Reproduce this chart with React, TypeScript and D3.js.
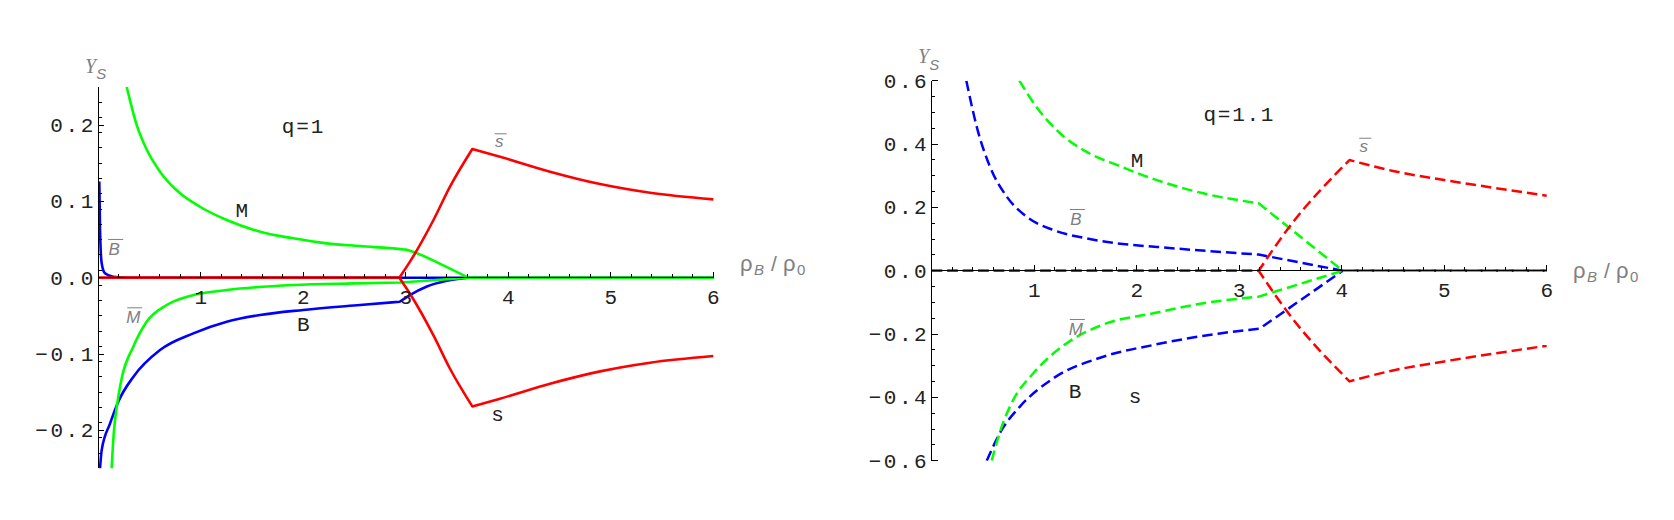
import React from "react";
import * as d3 from "d3";

type Pt = [number, number];

// ---------------- q = 1 (left panel, solid lines) ----------------
const q1_Bbar: Pt[][] = [
  [[0.01, 0.126], [0.017, 0.0625], [0.033, 0.019], [0.065, 0.0058], [0.146, 0.0013], [0.3, 0], [6, 0]],
];
const q1_B: Pt[][] = [
  [[0.017, -0.25], [0.033, -0.226], [0.115, -0.191], [0.195, -0.1625], [0.341, -0.13], [0.602, -0.0948], [0.927, -0.073], [1.253, -0.0577], [1.578, -0.0489], [2.0, -0.0423], [2.553, -0.0358], [2.94, -0.0315]],
  [[2.94, -0.0315], [3.04, -0.0227], [3.2, -0.0118], [3.4, -0.004], [3.61, 0]],
  [[3.61, 0], [6, 0]],
];
const q1_M: Pt[][] = [
  [[0.277, 0.25], [0.375, 0.2], [0.472, 0.168], [0.602, 0.139], [0.798, 0.1106], [0.992, 0.093], [1.253, 0.0756], [1.578, 0.0603], [1.902, 0.0516], [2.228, 0.045], [2.553, 0.0415], [2.95, 0.0375], [3.0, 0.0368]],
  [[3.0, 0.0368], [3.07, 0.034], [3.33, 0.0185], [3.61, 0]],
  [[3.61, 0], [6, 0]],
];
const q1_Mbar: Pt[][] = [
  [[0.13, -0.25], [0.15, -0.205], [0.186, -0.164], [0.228, -0.132], [0.341, -0.0904], [0.472, -0.0577], [0.667, -0.0358], [0.927, -0.0227], [1.253, -0.0161], [1.902, -0.0096], [2.5, -0.0075], [2.95, -0.0062]],
  [[2.95, -0.0062], [3.61, 0]],
  [[3.61, 0], [6, 0]],
];
const q1_sbar: Pt[][] = [
  [[0, 0], [2.937, 0]],
  [[2.937, 0], [3.05, 0.023], [3.27, 0.0756], [3.43, 0.119], [3.649, 0.1687]],
  [[3.649, 0.1687], [3.919, 0.1586], [4.407, 0.139], [4.895, 0.1228], [5.383, 0.1114], [6.0, 0.1027]],
];
const q1_s: Pt[][] = [
  [[0, 0], [2.937, 0]],
  [[2.937, 0], [3.05, -0.023], [3.27, -0.0756], [3.43, -0.119], [3.649, -0.1687]],
  [[3.649, -0.1687], [3.919, -0.1586], [4.407, -0.139], [4.895, -0.1228], [5.383, -0.1114], [6.0, -0.1027]],
];

// ---------------- q = 1.1 (right panel, dashed lines) ----------------
const q11_Bbar: Pt[][] = [
  [[0.338, 0.6], [0.439, 0.455], [0.569, 0.328], [0.732, 0.234], [0.927, 0.1705], [1.186, 0.1285], [1.512, 0.102], [1.805, 0.0865], [2.2, 0.075], [2.7, 0.062], [3.19, 0.051]],
  [[3.19, 0.051], [4.01, 0]],
  [[4.01, 0], [6, 0]],
];
const q11_B: Pt[][] = [
  [[0.537, -0.6], [0.683, -0.503], [0.861, -0.429], [1.186, -0.34], [1.674, -0.2716], [2.162, -0.2346], [2.813, -0.198], [3.2, -0.183]],
  [[3.2, -0.183], [4.01, 0]],
  [[4.01, 0], [6, 0]],
];
const q11_M: Pt[][] = [
  [[0.855, 0.6], [1.02, 0.518], [1.252, 0.434], [1.512, 0.375], [1.837, 0.33], [2.145, 0.2917], [2.649, 0.2443], [3.19, 0.2128]],
  [[3.19, 0.2128], [4.01, 0]],
  [[4.01, 0], [6, 0]],
];
const q11_Mbar: Pt[][] = [
  [[0.585, -0.6], [0.683, -0.4926], [0.796, -0.408], [0.991, -0.324], [1.317, -0.229], [1.674, -0.17], [2.162, -0.1345], [2.649, -0.103], [3.19, -0.082]],
  [[3.19, -0.082], [4.01, 0]],
  [[4.01, 0], [6, 0]],
];
const q11_sbar: Pt[][] = [
  [[0, 0], [3.19, 0]],
  [[3.19, 0], [3.47, 0.13], [4.076, 0.3495]],
  [[4.076, 0.3495], [4.5, 0.315], [5.0, 0.2864], [5.5, 0.261], [6.0, 0.237]],
];
const q11_s: Pt[][] = [
  [[0, 0], [3.19, 0]],
  [[3.19, 0], [3.47, -0.13], [4.076, -0.3495]],
  [[4.076, -0.3495], [4.5, -0.315], [5.0, -0.2864], [5.5, -0.261], [6.0, -0.237]],
];

// ---------------- ticks ----------------
const xTickValues = [1, 2, 3, 4, 5, 6];
const xTickLabels = ["1", "2", "3", "4", "5", "6"];
const q1_yTickValues = [-0.2, -0.1, 0, 0.1, 0.2];
const q1_yTickLabels = ["\u22120.2", "\u22120.1", "0.0", "0.1", "0.2"];
const q11_yTickValues = [-0.6, -0.4, -0.2, 0, 0.2, 0.4, 0.6];
const q11_yTickLabels = ["\u22120.6", "\u22120.4", "\u22120.2", "0.0", "0.2", "0.4", "0.6"];

const BLUE = "#0000ff";
const GREEN = "#00ff00";
const RED = "#ff0000";
const GREY = "#808080";
const MONO = "'Liberation Mono', 'DejaVu Sans Mono', monospace";
const SANS = "'Liberation Sans', Arial, sans-serif";
const SERIF = "'Liberation Serif', 'Times New Roman', serif";

type Label = { t: string; x: number; y: number; grey?: boolean };

type PanelCfg = {
  id: string;
  xRange: [number, number];
  yDomain: [number, number];
  yRange: [number, number];
  yMinorStep: number;
  yTicks: number[];
  yLabels: string[];
  series: { segs: Pt[][]; color: string }[];
  dashed: boolean;
  width: number;
  labels: Label[];
  title: { t: string; x: number; y: number };
  ysLabel: { x: number; y: number; sdy: number };
  rhoLabel: { x: number; y: number };
};

function Panel({ cfg }: { cfg: PanelCfg }) {
  const x = d3.scaleLinear().domain([0, 6]).range(cfg.xRange);
  const y = d3.scaleLinear().domain(cfg.yDomain).range(cfg.yRange);
  const line = d3
    .line<Pt>()
    .x((d) => x(d[0]))
    .y((d) => y(d[1]))
    .curve(d3.curveMonotoneX);
  const pathOf = (segs: Pt[][]) =>
    segs
      .map((s, i) => {
        const p = line(s) || "";
        return i === 0 ? p : p.replace(/^M[^A-Za-z]*/, "");
      })
      .join("");

  const x0 = x(0);
  const y0 = y(0);
  const xMinor = d3.range(1, 31).map((i) => i * 0.2).filter((v) => Math.abs(v - Math.round(v)) > 1e-6);
  const nMinor = Math.round((cfg.yDomain[1] - cfg.yDomain[0]) / cfg.yMinorStep);
  const yMinor = d3
    .range(1, nMinor)
    .map((i) => cfg.yDomain[0] + i * cfg.yMinorStep)
    .filter((v) => !cfg.yTicks.some((t) => Math.abs(t - v) < 1e-6));

  const clipId = "clip-" + cfg.id;
  const rx = cfg.rhoLabel.x;
  const ry = cfg.rhoLabel.y;
  return (
    <g>
      <defs>
        <clipPath id={clipId}>
          <rect x={x0 - 3} y={cfg.yRange[1]} width={x(6) - x0 + 6} height={cfg.yRange[0] - cfg.yRange[1]} />
        </clipPath>
      </defs>
      <g clipPath={`url(#${clipId})`} fill="none">
        {cfg.series.map((s, i) => (
          <path
            key={i}
            d={pathOf(s.segs)}
            stroke={s.color}
            strokeWidth={cfg.width}
            strokeDasharray={cfg.dashed ? "10.5 5" : undefined}
            strokeLinejoin="round"
          />
        ))}
      </g>
      {/* axes */}
      <g stroke="#000" strokeWidth={1} shapeRendering="crispEdges">
        <line x1={x0} x2={x(6)} y1={y0} y2={y0} />
        <line x1={x0} x2={x0} y1={cfg.yRange[0]} y2={cfg.yRange[1]} />
        {xTickValues.map((v) => (
          <line key={"xM" + v} x1={x(v)} x2={x(v)} y1={y0} y2={y0 - 6} />
        ))}
        {xMinor.map((v, i) => (
          <line key={"xm" + i} x1={x(v)} x2={x(v)} y1={y0} y2={y0 - 3.5} />
        ))}
        {cfg.yTicks.map((v) => (
          <line key={"yM" + v} x1={x0} x2={x0 + 6} y1={y(v)} y2={y(v)} />
        ))}
        {yMinor.map((v, i) => (
          <line key={"ym" + i} x1={x0} x2={x0 + 3.5} y1={y(v)} y2={y(v)} />
        ))}
      </g>
      {/* tick labels */}
      <g fontFamily={MONO} fontSize={21} fill="#222">
        {cfg.yTicks.map((v, i) => (
          <text
            key={"yl" + v}
            x={x0 - 5}
            y={y(v) + 7}
            textAnchor="end"
            textLength={cfg.yLabels[i].length * 15 - 2}
            lengthAdjust="spacing"
          >
            {cfg.yLabels[i]}
          </text>
        ))}
        {xTickValues.map((v, i) => (
          <text key={"xl" + v} x={x(v)} y={y0 + 26} textAnchor="middle">
            {xTickLabels[i]}
          </text>
        ))}
      </g>
      {/* title */}
      <text
        x={x(cfg.title.x)}
        y={y(cfg.title.y)}
        fontFamily={MONO}
        fontSize={21}
        fill="#222"
        textAnchor="middle"
        textLength={cfg.title.t.length * 14.2 - 1}
        lengthAdjust="spacing"
      >
        {cfg.title.t}
      </text>
      {/* curve labels */}
      {cfg.labels.map((l, i) => {
        const lx = x(l.x);
        const ly = y(l.y);
        if (l.grey) {
          const lower = l.t === "s";
          const half = lower ? 6 : 7.5;
          const barY = ly - (lower ? 13.5 : 15.5);
          return (
            <g key={i}>
              <text x={lx} y={ly} fontFamily={SANS} fontStyle="italic" fontSize={17} fill={GREY} textAnchor="middle">
                {l.t}
              </text>
              <line x1={lx - half + 1.5} x2={lx + half + 1.5} y1={barY} y2={barY} stroke={GREY} strokeWidth={1} />
            </g>
          );
        }
        return (
          <text key={i} x={lx} y={ly} fontFamily={MONO} fontSize={21} fill="#222" textAnchor="middle">
            {l.t}
          </text>
        );
      })}
      {/* axis titles */}
      <text x={cfg.ysLabel.x} y={cfg.ysLabel.y} fill={GREY}>
        <tspan fontFamily={SERIF} fontStyle="italic" fontSize={20}>
          Y
        </tspan>
        <tspan fontFamily={SANS} fontStyle="italic" fontSize={15} dy={cfg.ysLabel.sdy}>
          S
        </tspan>
      </text>
      <g fill={GREY} fontFamily={SANS}>
        <text x={rx} y={ry} fontSize={22}>ρ</text>
        <text x={rx + 14} y={ry + 4} fontSize={15} fontStyle="italic">B</text>
        <text x={rx + 31} y={ry} fontSize={21}>/</text>
        <text x={rx + 43} y={ry} fontSize={22}>ρ</text>
        <text x={rx + 57} y={ry + 4} fontSize={15}>0</text>
      </g>
    </g>
  );
}

const leftCfg: PanelCfg = {
  id: "q1",
  xRange: [98.3, 713.3],
  yDomain: [-0.25, 0.25],
  yRange: [468.45, 86.95],
  yMinorStep: 0.02,
  yTicks: q1_yTickValues,
  yLabels: q1_yTickLabels,
  series: [
    { segs: q1_Bbar, color: BLUE },
    { segs: q1_B, color: BLUE },
    { segs: q1_M, color: GREEN },
    { segs: q1_Mbar, color: GREEN },
    { segs: q1_sbar, color: RED },
    { segs: q1_s, color: RED },
  ],
  dashed: false,
  width: 2.6,
  labels: [
    { t: "M", x: 1.399, y: 0.08 },
    { t: "B", x: 0.155, y: 0.0298, grey: true },
    { t: "M", x: 0.341, y: -0.0598, grey: true },
    { t: "B", x: 2.0, y: -0.0695 },
    { t: "s", x: 3.911, y: 0.1709, grey: true },
    { t: "s", x: 3.895, y: -0.1878 },
  ],
  title: { t: "q=1", x: 1.993, y: 0.1896 },
  ysLabel: { x: 85, y: 73, sdy: 6 },
  rhoLabel: { x: 740, y: 271 },
};

const rightCfg: PanelCfg = {
  id: "q11",
  xRange: [931.7, 1546.7],
  yDomain: [-0.6, 0.6],
  yRange: [460.7, 80.7],
  yMinorStep: 0.05,
  yTicks: q11_yTickValues,
  yLabels: q11_yTickLabels,
  series: [
    { segs: q11_Bbar, color: BLUE },
    { segs: q11_B, color: BLUE },
    { segs: q11_M, color: GREEN },
    { segs: q11_Mbar, color: GREEN },
    { segs: q11_sbar, color: RED },
    { segs: q11_s, color: RED },
  ],
  dashed: true,
  width: 2.5,
  labels: [
    { t: "M", x: 2.003, y: 0.3274 },
    { t: "B", x: 1.406, y: 0.1443, grey: true },
    { t: "M", x: 1.406, y: -0.203, grey: true },
    { t: "B", x: 1.398, y: -0.402 },
    { t: "s", x: 4.215, y: 0.3757, grey: true },
    { t: "s", x: 1.983, y: -0.417 },
  ],
  title: { t: "q=1.1", x: 2.993, y: 0.4736 },
  ysLabel: { x: 918, y: 63, sdy: 7 },
  rhoLabel: { x: 1573, y: 277.5 },
};

export default function App() {
  return (
    <svg
      width={1674}
      height={520}
      viewBox="0 0 1674 520"
      style={{ position: "absolute", left: 0, top: 0, background: "#fff" }}
    >
      <rect x={0} y={0} width={1674} height={520} fill="#fff" />
      <Panel cfg={leftCfg} />
      <Panel cfg={rightCfg} />
    </svg>
  );
}
